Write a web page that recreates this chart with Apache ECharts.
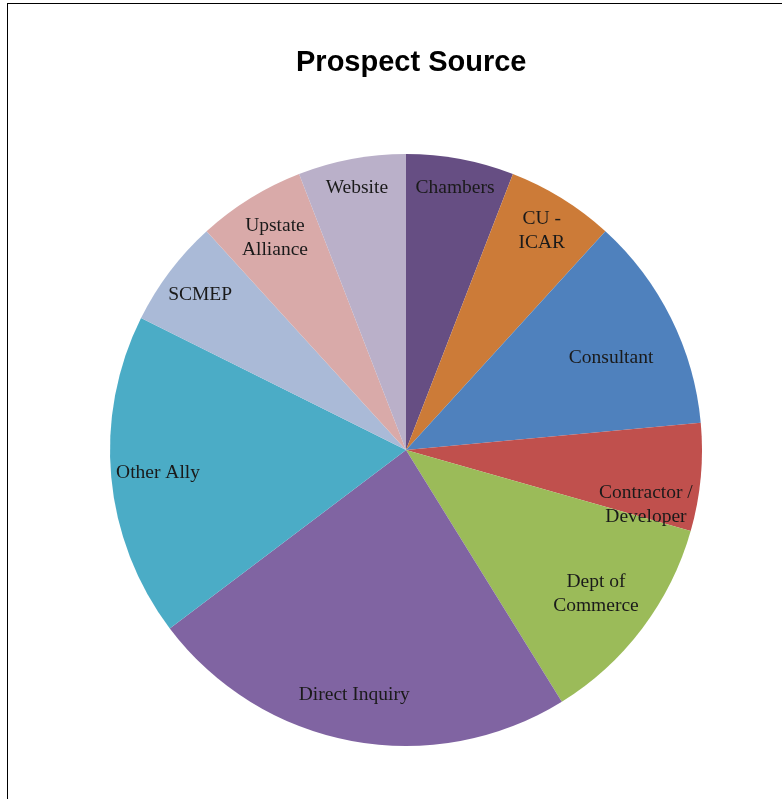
<!DOCTYPE html>
<html>
<head>
<meta charset="utf-8">
<script src="https://cdn.jsdelivr.net/npm/echarts@6/dist/echarts.min.js"></script>
<style>
html,body{margin:0;padding:0;background:#fff;overflow:hidden;}
#frame{position:absolute;left:7px;top:3px;width:800px;height:820px;border-left:1.5px solid #000;border-top:1.5px solid #000;}
#chart{position:absolute;left:0;top:0;width:782px;height:799px;}
</style>
</head>
<body>
<div id="frame"></div>
<div id="chart"></div>
<script>
const categories = ["Chambers", "CU -\nICAR", "Consultant", "Contractor /\nDeveloper", "Dept of\nCommerce", "Direct Inquiry", "Other Ally", "SCMEP", "Upstate\nAlliance", "Website"];
const values = [1, 1, 2, 1, 2, 4, 3, 1, 1, 1];
const colors = ["#664E83", "#CC7B38", "#4F81BD", "#C0504D", "#9BBB59", "#8064A2", "#4BACC6", "#AABAD7", "#D9AAA9", "#BAB0C9"];

const chart = echarts.init(document.getElementById('chart'));
const CENTER = [406, 450];
const R = 296;
const pieData = categories.map((c, i) => ({ name: c, value: values[i], itemStyle: { color: colors[i] } }));

// label rings (inner radius) so that "inside" labels sit at Excel-like best-fit distances
const labelRings = [
  { r0: 232, names: ["Chambers", "Website"] },
  { r0: 214, names: ["CU -\nICAR", "SCMEP"] },
  { r0: 196, names: ["Direct Inquiry", "Other Ally", "Upstate\nAlliance", "Contractor /\nDeveloper"] },
  { r0: 174, names: ["Consultant", "Dept of\nCommerce"] }
];
const labelNudges = { "Contractor /\nDeveloper": [-8, 32], "Consultant": [-8, 14], "Direct Inquiry": [-6, 0] };
const labelStyle = {
  position: 'inside',
  formatter: '{b}',
  fontFamily: 'Liberation Serif, Times New Roman, serif',
  fontSize: 19.5,
  lineHeight: 24,
  color: '#1a1a1a',
  textBorderWidth: 0
};
const labelSeries = labelRings.map(ring => ({
  type: 'pie',
  center: CENTER,
  radius: [ring.r0, R],
  startAngle: 90,
  clockwise: true,
  silent: true,
  data: categories.map((c, i) => {
    const d = { name: c, value: values[i], label: { show: ring.names.includes(c) } };
    if (labelNudges[c]) d.label.offset = labelNudges[c];
    return d;
  }),
  itemStyle: { color: 'rgba(0,0,0,0)', borderWidth: 0 },
  label: labelStyle,
  labelLine: { show: false }
}));

chart.setOption({
  animation: false,
  title: {
    text: 'Prospect Source',
    left: 291,
    top: 43,
    textStyle: { fontFamily: 'Liberation Sans, Arial, sans-serif', fontSize: 29, fontWeight: 'bold', color: '#000' }
  },
  series: [
    {
      type: 'pie',
      center: CENTER,
      radius: [0, R],
      startAngle: 90,
      clockwise: true,
      silent: true,
      data: pieData,
      label: { show: false },
      labelLine: { show: false },
      itemStyle: { borderWidth: 0 }
    }
  ].concat(labelSeries)
});
</script>
</body>
</html>
